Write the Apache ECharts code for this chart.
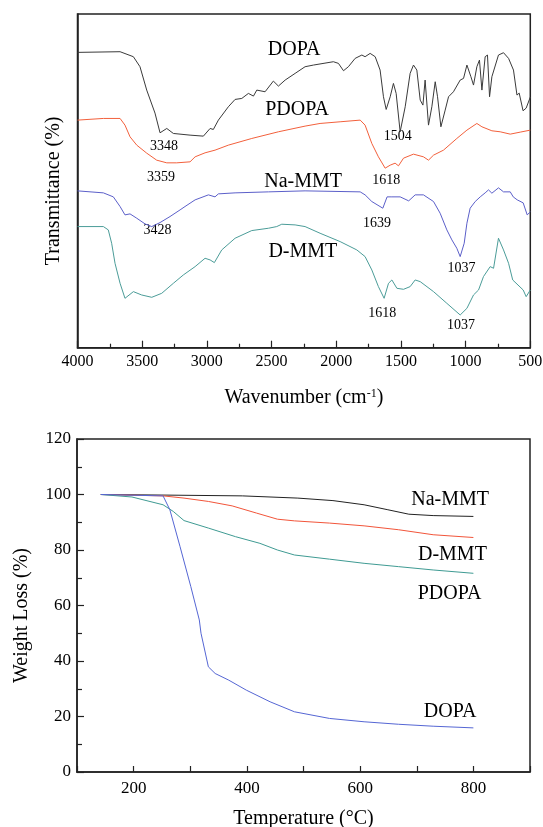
<!DOCTYPE html>
<html>
<head>
<meta charset="utf-8">
<script src="https://cdn.jsdelivr.net/npm/echarts@6/dist/echarts.min.js"></script>
<style>
  html, body { margin: 0; padding: 0; background: #fff; }
  #chart { width: 543px; height: 827px; }
</style>
</head>
<body>
<div id="chart"></div>
<script>
// FTIR spectra: [wavenumber cm-1, transmittance a.u.]
const dopaIR = [[4000,88.5],[3671,88.7],[3568,87.2],[3517,84.2],[3465,77.2],[3401,70.3],[3362,64.4],[3310,65.7],[3259,64.2],[3130,63.7],[3027,63.4],[2975,65.7],[2950,65.4],[2911,68.2],[2834,72.2],[2782,74.4],[2730,74.7],[2679,76.2],[2640,75.4],[2614,77.2],[2550,76.7],[2486,79.9],[2447,78.4],[2395,80.2],[2318,82.2],[2241,84.2],[2176,84.7],[2022,85.7],[1983,85.2],[1944,83.0],[1906,84.2],[1854,86.7],[1802,87.7],[1777,87.2],[1738,88.2],[1699,87.2],[1661,83.2],[1635,75.2],[1614,71.4],[1583,75.2],[1558,79.2],[1537,76.2],[1506,64.7],[1467,72.2],[1429,82.2],[1403,84.7],[1377,83.2],[1351,74.2],[1330,72.7],[1313,80.2],[1287,66.7],[1261,72.2],[1235,79.7],[1217,75.2],[1191,66.2],[1158,71.2],[1132,75.2],[1094,76.7],[1042,80.2],[1016,80.7],[990,84.7],[959,81.2],[939,78.7],[913,84.2],[893,86.2],[874,77.2],[849,87.2],[831,87.7],[815,75.2],[797,81.2],[746,87.7],[707,88.4],[668,86.7],[630,83.2],[603,75.7],[586,76.3],[556,71.0],[532,71.8],[500,75.1]];
const pdopaIR = [[4000,68.2],[3800,68.7],[3671,68.7],[3633,66.7],[3594,63.2],[3542,60.7],[3465,58.3],[3388,56.2],[3310,55.4],[3233,55.4],[3130,55.7],[3091,57.2],[3014,58.4],[2937,59.2],[2834,60.7],[2653,62.7],[2447,64.7],[2241,66.4],[2125,67.2],[1970,67.7],[1815,68.2],[1777,66.7],[1725,61.2],[1674,57.2],[1622,53.8],[1583,54.7],[1545,55.3],[1519,54.5],[1480,56.8],[1467,57.2],[1403,58.0],[1326,57.2],[1287,56.2],[1248,57.7],[1171,59.2],[1068,62.7],[990,65.2],[913,67.2],[874,66.2],[797,65.0],[733,64.7],[655,64.0],[578,64.6],[500,65.2]];
const naMmtIR = [[4000,47.0],[3800,46.4],[3723,45.2],[3671,42.3],[3633,39.8],[3594,40.1],[3542,38.8],[3478,37.1],[3426,36.3],[3362,37.5],[3285,39.3],[3207,41.3],[3169,42.3],[3091,44.3],[2988,45.8],[2937,45.2],[2911,46.1],[2782,46.4],[2524,46.7],[2241,47.0],[1815,46.7],[1777,45.8],[1725,43.8],[1640,41.8],[1607,45.2],[1570,45.2],[1506,45.2],[1440,44.0],[1390,45.8],[1326,45.8],[1248,43.8],[1197,40.3],[1145,35.3],[1106,32.3],[1068,29.8],[1042,27.3],[1011,31.3],[990,37.3],[965,41.8],[926,43.8],[887,45.2],[849,46.4],[823,47.3],[797,46.3],[746,47.9],[707,46.7],[655,46.7],[632,45.2],[601,44.3],[555,43.4],[524,39.8],[500,40.7]];
const dMmtIR = [[4000,36.3],[3800,36.3],[3762,35.3],[3736,31.3],[3710,25.3],[3671,19.3],[3633,14.8],[3568,16.8],[3504,15.8],[3426,15.1],[3349,16.3],[3259,19.3],[3182,21.8],[3091,24.3],[3014,26.8],[2975,26.3],[2942,25.5],[2885,29.3],[2782,32.8],[2653,35.1],[2524,35.8],[2460,36.3],[2421,37.0],[2318,36.8],[2241,36.3],[2125,34.3],[1970,31.8],[1841,29.3],[1777,27.3],[1725,23.3],[1674,18.3],[1630,14.8],[1596,19.3],[1570,20.3],[1531,17.8],[1480,17.5],[1429,18.3],[1390,20.3],[1351,19.8],[1248,16.8],[1145,13.3],[1042,9.8],[990,11.8],[939,15.8],[900,17.3],[862,21.3],[810,24.3],[784,23.8],[746,32.8],[707,29.3],[668,25.3],[636,20.3],[555,17.3],[532,15.3],[500,17.3]];

// TGA curves: [temperature C, weight %]
const naMmtTGA = [[142,100],[250,99.8],[392,99.5],[490,98.7],[552,97.8],[607,96.3],[649,94.5],[686,92.9],[729,92.4],[800,92.1]];
const dMmtTGA = [[142,100],[252,99.5],[289,98.7],[332,97.5],[374,95.9],[417,93.3],[454,91.1],[484,90.5],[546,89.7],[607,88.7],[668,87.3],[729,85.5],[800,84.5]];
const pdopaTGA = [[142,100],[197,99.1],[252,96.3],[270,93.9],[289,90.6],[332,87.9],[380,84.8],[423,82.4],[454,80.0],[484,78.2],[546,76.7],[607,75.2],[668,74.0],[729,72.8],[800,71.6]];
const dopaTGA = [[142,100],[252,99.5],[264,94.5],[282,81.2],[301,66.8],[307,62.0],[316,54.8],[319,50.0],[332,37.9],[344,35.5],[368,33.1],[399,29.5],[441,25.3],[484,21.7],[546,19.3],[607,18.1],[668,17.2],[729,16.5],[800,15.9]];

// text annotations: [text, x, y]
const irNames = [['DOPA',2326,89.2],['PDOPA',2303,71.2],['Na-MMT',2256,49.7],['D-MMT',2258,28.8]];
const irPeaks = [['3348',3331,60.4],['3359',3354,51.2],['3428',3381,35.3],['1504',1525,63.2],['1618',1614,50.3],['1639',1684,37.3],['1618',1645,10.3],['1037',1032,23.8],['1037',1036,6.8]];
const tgaNames = [['Na-MMT',759,98.1],['D-MMT',763,78.2],['PDOPA',758,64.4],['DOPA',759,21.7]];

const FONT = 'Liberation Serif';
const AXIS = '#222';

function line(name, data, color, idx) {
  return {
    name, type: 'line', data, xAxisIndex: idx, yAxisIndex: idx,
    showSymbol: false, silent: true,
    lineStyle: { color, width: 1 }
  };
}

function notes(list, idx, size) {
  return {
    type: 'scatter', xAxisIndex: idx, yAxisIndex: idx, symbolSize: 0, silent: true,
    itemStyle: { opacity: 1 },
    data: list.map(d => ({ name: d[0], value: [d[1], d[2]] })),
    label: { show: true, position: 'inside', formatter: '{b}', color: '#000', fontFamily: FONT, fontSize: size }
  };
}

const chart = echarts.init(document.getElementById('chart'));
chart.setOption({
  animation: false,
  backgroundColor: '#fff',
  grid: [
    { left: 77.5, right: 12.7, top: 14, bottom: 479.3, show: true, borderColor: AXIS, borderWidth: 1.5, outerBoundsMode: 'none', containLabel: false },
    { left: 77, right: 13, top: 439, bottom: 55, show: true, borderColor: AXIS, borderWidth: 1.5, outerBoundsMode: 'none', containLabel: false }
  ],
  xAxis: [
    {
      gridIndex: 0, type: 'value', inverse: true, min: 500, max: 4000, interval: 500,
      axisLine: { lineStyle: { color: AXIS, width: 1.5 } },
      axisTick: { inside: true, length: 7, lineStyle: { color: AXIS, width: 1.2 } },
      minorTick: { show: true, splitNumber: 2, length: 4, lineStyle: { color: AXIS, width: 1.2 } },
      splitLine: { show: false },
      axisLabel: { color: '#000', fontFamily: FONT, fontSize: 16, margin: 6, formatter: v => String(v) },
      name: 'Wavenumber (cm{sup|-1})', nameLocation: 'middle', nameGap: 40,
      nameTextStyle: {
        color: '#000', fontFamily: FONT, fontSize: 20, lineHeight: 20,
        rich: { sup: { fontFamily: FONT, fontSize: 12, verticalAlign: 'top', color: '#000' } }
      }
    },
    {
      gridIndex: 1, type: 'value', min: 100, max: 900, interval: 100,
      axisLine: { lineStyle: { color: AXIS, width: 1.5 } },
      axisTick: { inside: true, length: 6, lineStyle: { color: AXIS, width: 1.2 } },
      splitLine: { show: false },
      axisLabel: {
        color: '#000', fontFamily: FONT, fontSize: 17, margin: 8,
        formatter: v => (v % 200 === 0 && v >= 200 && v <= 800) ? String(v) : ''
      },
      name: 'Temperature (°C)', nameLocation: 'middle', nameGap: 37,
      nameTextStyle: { color: '#000', fontFamily: FONT, fontSize: 20, lineHeight: 20 }
    }
  ],
  yAxis: [
    {
      gridIndex: 0, type: 'value', min: 0, max: 100,
      axisLine: { show: true, lineStyle: { color: AXIS, width: 1.5 } },
      axisTick: { show: false }, axisLabel: { show: false }, splitLine: { show: false },
      name: 'Transmittance (%)', nameLocation: 'middle', nameGap: 14,
      nameTextStyle: { color: '#000', fontFamily: FONT, fontSize: 20, lineHeight: 20, padding: [0, 20, 0, 0] }
    },
    {
      gridIndex: 1, type: 'value', min: 0, max: 120, interval: 20,
      axisLine: { show: true, lineStyle: { color: AXIS, width: 1.5 } },
      axisTick: { inside: true, length: 7, lineStyle: { color: AXIS, width: 1.2 } },
      minorTick: { show: true, splitNumber: 2, length: 5, lineStyle: { color: AXIS, width: 1.2 } },
      splitLine: { show: false },
      axisLabel: { color: '#000', fontFamily: FONT, fontSize: 17, margin: 6 },
      name: 'Weight Loss (%)', nameLocation: 'middle', nameGap: 45,
      nameTextStyle: { color: '#000', fontFamily: FONT, fontSize: 20, lineHeight: 20, padding: [0, 20, 0, 0] }
    }
  ],
  series: [
    line('DOPA', dopaIR, '#3a3a3a', 0),
    line('PDOPA', pdopaIR, '#f2603c', 0),
    line('Na-MMT', naMmtIR, '#5b5fc9', 0),
    line('D-MMT', dMmtIR, '#4b9c98', 0),
    line('Na-MMT', naMmtTGA, '#222222', 1),
    line('D-MMT', dMmtTGA, '#f2553a', 1),
    line('PDOPA', pdopaTGA, '#3f9b93', 1),
    line('DOPA', dopaTGA, '#5566d4', 1),
    notes(irNames, 0, 20),
    notes(irPeaks, 0, 14),
    notes(tgaNames, 1, 20)
  ]
});
</script>
</body>
</html>
